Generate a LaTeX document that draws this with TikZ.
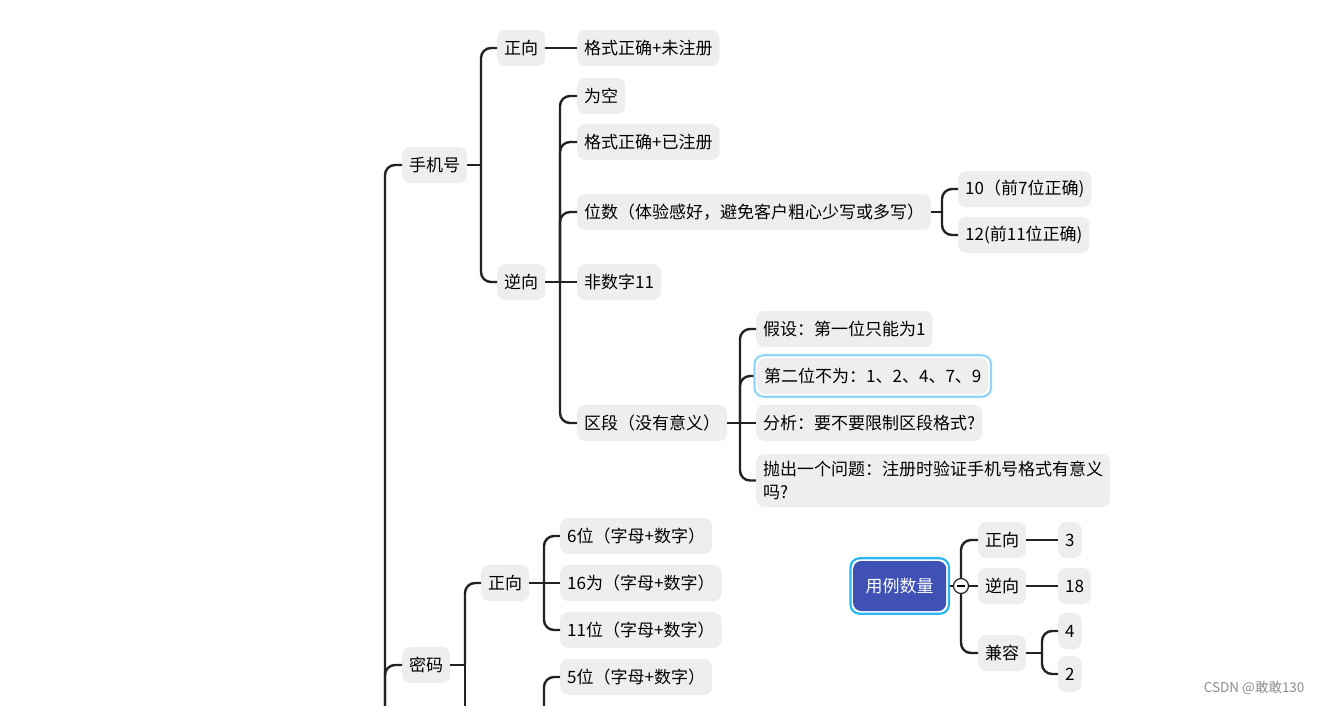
\documentclass[tikz,border=0pt]{standalone}
\usepackage{fontspec}
\setmainfont{Noto Sans CJK SC}
\usepackage{tikz}
\usetikzlibrary{calc,fit}
\definecolor{boxgray}{HTML}{EEEEEE}
\definecolor{linek}{HTML}{222222}
\definecolor{rootblue}{HTML}{3F51B5}
\definecolor{ringblue}{HTML}{29B6F6}
\definecolor{selblue}{HTML}{92D6F7}

\begin{document}
\begin{tikzpicture}[
  x=1pt, y=-1pt,
  font=\fontsize{17}{23}\selectfont,
  tp/.style={fill=boxgray, rounded corners=8pt, minimum height=36pt, inner xsep=7pt, inner ysep=4pt, anchor=west},
  main/.style={fill=rootblue, text=white, rounded corners=8pt, minimum height=50pt, minimum width=93pt, anchor=west},
  ring/.style={draw=#1, line width=2.2pt, rounded corners=9pt, inner sep=2.5pt},
  ln/.style={draw=linek, line width=2.4pt, rounded corners=10pt},
  foldbtn/.style={circle, draw=linek, fill=white, line width=1.2pt, minimum size=15pt, inner sep=0pt},
]
\path[use as bounding box] (0,0) rectangle (1322,705);
\clip (0,0) rectangle (1322,705);
% phone number branch
\node[tp] (phone) at (402,165) {手机号};
\node[tp] (phPos) at (497,48) {正向};
\node[tp] (phPos1) at (577,48) {格式正确+未注册};
\node[tp] (phNeg) at (497,282) {逆向};
\node[tp] (phNeg1) at (577,96) {为空};
\node[tp] (phNeg2) at (577,142) {格式正确+已注册};
\node[tp] (phNeg3) at (577,212) {位数（体验感好，避免客户粗心少写或多写）};
\node[tp] (len1) at (958,189) {10（前7位正确)};
\node[tp] (len2) at (958,235) {12(前11位正确)};
\node[tp] (phNeg4) at (577,282) {非数字11};
\node[tp] (phNeg5) at (577,423) {区段（没有意义）};
\node[tp] (sec1) at (756,329) {假设：第一位只能为1};
\node[tp] (sec2) at (757,376) {第二位不为：1、2、4、7、9};
\node[tp] (sec3) at (756,423) {分析：要不要限制区段格式?};
\node[tp, align=left, inner ysep=7pt] (sec4) at (756,480.5) {抛出一个问题：注册时验证手机号格式有意义\\吗?};
\node[ring=selblue, fit=(sec2)] (sec2sel) {};
% password branch
\node[tp] (pw) at (402,665) {密码};
\node[tp] (pwPos) at (481,583) {正向};
\node[tp] (pw1) at (560,536) {6位（字母+数字）};
\node[tp] (pw2) at (560,583) {16为（字母+数字）};
\node[tp] (pw3) at (560,630) {11位（字母+数字）};
\node[tp] (pw4) at (560,677) {5位（字母+数字）};
% case count
\node[main] (cnt) at (853,586) {用例数量};
\node[ring=ringblue, fit=(cnt)] (cntsel) {};
\node[tp] (cPos) at (978,540) {正向};
\node[tp] (cNeg) at (978,586) {逆向};
\node[tp] (cMix) at (978,653) {兼容};
\node[tp] (n3) at (1058,540) {3};
\node[tp] (n18) at (1058,586) {18};
\node[tp] (n4) at (1058,631) {4};
\node[tp] (n2) at (1058,674) {2};
\node[anchor=east, text=black!45, font=\fontsize{13.5}{15}\selectfont] (wm) at (1308,688) {CSDN @敢敢130};

\coordinate (tRoot) at (385,715);
\coordinate (tPh) at (481,165);
\coordinate (tNeg) at (560,282);
\coordinate (tLen) at (942,212);
\coordinate (tSec) at (740,423);
\coordinate (tPw) at (465,665);
\coordinate (pwDown) at (465,715);
\coordinate (tPwPos) at (544,583);
\coordinate (tPwNeg) at (544,715);
\coordinate (tCnt) at (961,586);
\coordinate (tMix) at (1042,653);

\draw[ln] (tRoot) |- (phone.west); \draw[ln] (tRoot) |- (pw.west);
\draw[ln] (phone.east) -- (tPh); \draw[ln] (tPh) |- (phPos.west); \draw[ln] (tPh) |- (phNeg.west);
\draw[ln] (phPos.east) -- (phPos1.west);
\draw[ln] (phNeg.east) -- (phNeg4.west);
\draw[ln] (tNeg) |- (phNeg1.west); \draw[ln] (tNeg) |- (phNeg2.west); \draw[ln] (tNeg) |- (phNeg3.west); \draw[ln] (tNeg) |- (phNeg5.west);
\draw[ln] (phNeg3.east) -- (tLen); \draw[ln] (tLen) |- (len1.west); \draw[ln] (tLen) |- (len2.west);
\draw[ln] (phNeg5.east) -- (tSec); \draw[ln] (tSec) |- (sec1.west); \draw[ln] (tSec) |- (sec2sel.west); \draw[ln] (tSec) -- (sec3.west); \draw[ln] (tSec) |- (sec4.west);
\draw[ln] (pw.east) -- (tPw); \draw[ln] (tPw) |- (pwPos.west); \draw[ln] (tPw) -- (pwDown);
\draw[ln] (pwPos.east) -- (pw2.west); \draw[ln] (tPwPos) |- (pw1.west); \draw[ln] (tPwPos) |- (pw3.west);
\draw[ln] (tPwNeg) |- (pw4.west);
\draw[ln] (cntsel.east) -- (cNeg.west); \draw[ln] (tCnt) |- (cPos.west); \draw[ln] (tCnt) |- (cMix.west);
\draw[ln] (cPos.east) -- (n3.west); \draw[ln] (cNeg.east) -- (n18.west);
\draw[ln] (cMix.east) -- (tMix); \draw[ln] (tMix) |- (n4.west); \draw[ln] (tMix) |- (n2.west);
\node[foldbtn] (fold) at (tCnt) {\rule{8pt}{1.4pt}};
\end{tikzpicture}
\end{document}
